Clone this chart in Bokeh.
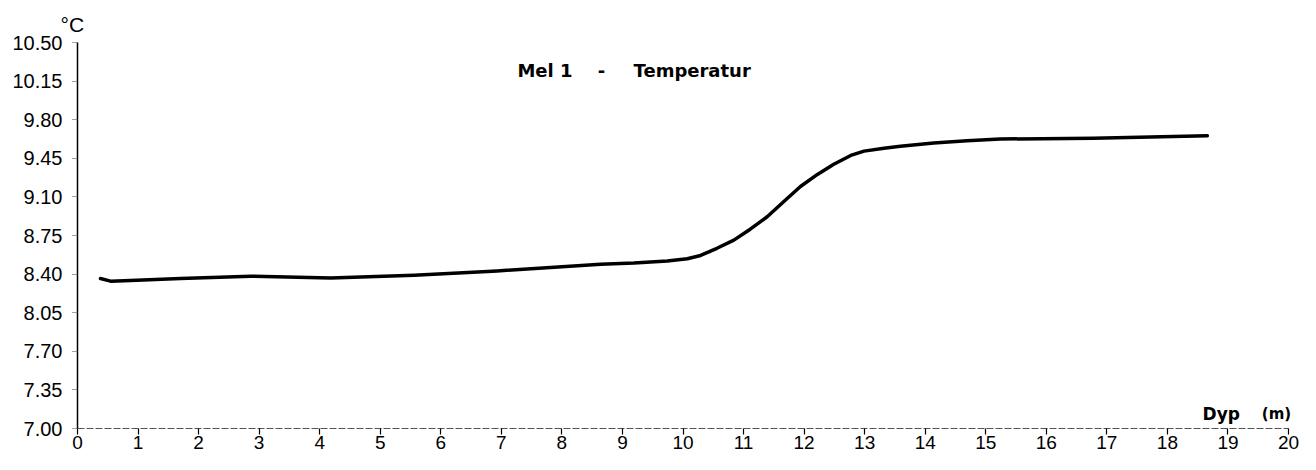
from bokeh.plotting import figure
from bokeh.models import Label, Range1d, FixedTicker, Title
from bokeh.embed import file_html
from bokeh.resources import INLINE

# Data (depth in m, temperature in degC)
depth = [0.38, 0.545, 0.875, 1.70, 2.86, 4.18, 5.56, 6.93, 8.64, 9.19, 9.74, 10.07,
         10.29, 10.56, 10.84, 11.11, 11.39, 11.67, 11.94, 12.22, 12.49, 12.77, 12.99,
         13.32, 13.59, 14.14, 14.69, 15.24, 16.78, 18.66]
temp = [8.360, 8.336, 8.342, 8.360, 8.381, 8.365, 8.390, 8.429, 8.490, 8.500, 8.518, 8.539,
        8.569, 8.634, 8.708, 8.807, 8.920, 9.060, 9.194, 9.304, 9.396, 9.476, 9.515,
        9.542, 9.560, 9.589, 9.610, 9.625, 9.631, 9.655]

y_ticks = [7.00, 7.35, 7.70, 8.05, 8.40, 8.75, 9.10, 9.45, 9.80, 10.15, 10.50]
x_ticks = list(range(0, 21))
title_parts = ["Mel 1", "-", "Temperatur"]
x_title_parts = ["Dyp", "(m)"]
y_unit = "°C"

FONT = "Liberation Sans"
BOLD_FONT = "DejaVu Sans"

p = figure(width=1300, height=454, output_backend="svg", toolbar_location=None,
           x_range=Range1d(0, 20.198), y_range=Range1d(7.0, 10.5),
           min_border_left=77, min_border_right=0, min_border_top=42, min_border_bottom=26)
p.outline_line_color = None
p.xgrid.visible = False
p.ygrid.visible = False
p.background_fill_color = "white"
p.border_fill_color = "white"

p.line(depth, temp, line_color="black", line_width=3.5, line_join="round", line_cap="round")

# y axis
ya = p.yaxis[0]
ya.ticker = FixedTicker(ticks=y_ticks)
ya.major_label_overrides = {t: f"{t:.2f}" for t in y_ticks}
ya.major_tick_out = 5
ya.major_tick_in = 0
ya.minor_tick_out = 0
ya.minor_tick_in = 0
ya.major_tick_line_dash = "1 1"
ya.major_tick_line_color = "#444444"
ya.axis_line_color = "black"
ya.axis_line_width = 1.5
ya.major_label_standoff = 10
ya.major_label_text_font = FONT
ya.major_label_text_font_size = "20px"
ya.major_label_text_color = "black"

# x axis
xa = p.xaxis[0]
xa.ticker = FixedTicker(ticks=x_ticks)
xa.bounds = (0, 20)
xa.major_tick_out = 6
xa.major_tick_in = 0
xa.minor_tick_out = 0
xa.minor_tick_in = 0
xa.major_tick_line_color = "black"
xa.major_tick_line_width = 1.2
xa.axis_line_color = "#555555"
xa.axis_line_dash = "7 2"
xa.axis_line_width = 1
xa.major_label_standoff = 1
xa.major_label_text_font = FONT
xa.major_label_text_font_size = "19px"
xa.major_label_text_color = "black"

# unit label above the y axis
p.add_layout(Title(text=y_unit, align="left", offset=-17, standoff=14,
                   text_font=FONT, text_font_size="21px", text_font_style="normal",
                   text_color="black"), "above")

# Chart title in three pieces (wide spacing as in the original)
common = dict(text_font=BOLD_FONT, text_font_size="18px", text_font_style="bold",
              text_color="black", text_baseline="middle")
p.add_layout(Label(x=8.175, y=10.245, text=title_parts[0], text_align="right", **common))
p.add_layout(Label(x=8.654, y=10.245, text=title_parts[1], text_align="center", **common))
p.add_layout(Label(x=9.183, y=10.245, text=title_parts[2], text_align="left", **common))

# Axis title
common2 = dict(text_font=BOLD_FONT, text_font_style="bold",
               text_color="black", text_baseline="alphabetic")
p.add_layout(Label(x=18.58, y=7.128, text=x_title_parts[0], text_align="left",
                   text_font_size="17px", **common2))
p.add_layout(Label(x=19.56, y=7.128, text=x_title_parts[1], text_align="left",
                   text_font_size="15px", **common2))

open("out.html", "w").write(file_html(p, INLINE))
